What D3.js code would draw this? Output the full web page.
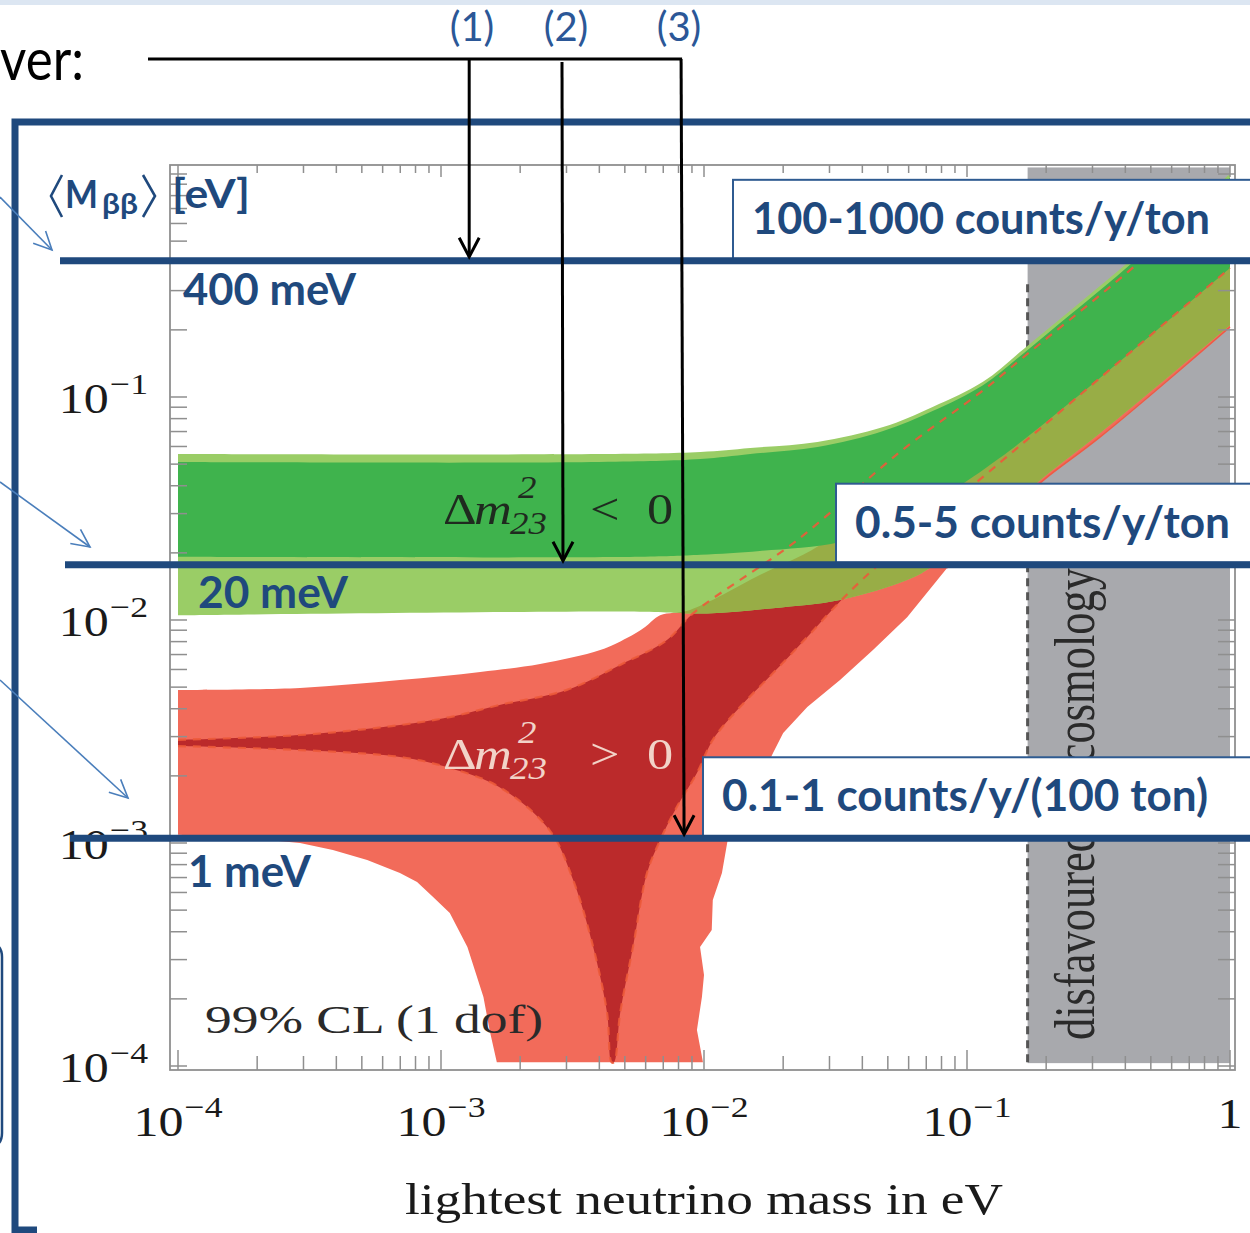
<!DOCTYPE html>
<html>
<head>
<meta charset="utf-8">
<script src="https://cdn.jsdelivr.net/npm/d3@7"></script>
<style>
  body { margin: 0; background: #fff; }
  svg { display: block; }
</style>
</head>
<body>
<div id="canvas"></div>
<script>

// ---- data: [lightest mass (eV), <m_bb> (eV)] ----

// inverted hierarchy (green), outer 3 sigma band
const ihOuterUpper = [[1e-4, 0.0555], [4.0e-3, 0.0555], [9.7e-3, 0.0567], [1.5e-2, 0.0591], [2.7e-2, 0.0629],
  [4.8e-2, 0.0733], [7.4e-2, 0.0902], [0.115, 0.117], [0.163, 0.163], [0.246, 0.243], [0.372, 0.364],
  [0.591, 0.585], [1, 1.0]];
const ihOuterLower = [[1e-4, 0.0105], [5.7e-3, 0.0109], [1.03e-2, 0.0107], [1.83e-2, 0.0113], [3.29e-2, 0.0123],
  [5.92e-2, 0.0151], [7.23e-2, 0.0171], [0.133, 0.0296], [0.196, 0.0438], [0.321, 0.069], [1, 0.21]];

// inverted hierarchy, inner band
const ihInnerUpper = [[1e-4, 0.0511], [4.0e-3, 0.0511], [9.7e-3, 0.0527], [1.5e-2, 0.0555], [2.7e-2, 0.0597],
  [4.8e-2, 0.0704], [7.4e-2, 0.0865], [0.115, 0.113], [0.163, 0.156], [0.246, 0.233], [0.372, 0.349],
  [0.591, 0.561], [1, 0.96]];
const ihInnerLower = [[1e-4, 0.0192], [5.7e-3, 0.0192], [9.7e-3, 0.0196], [1.63e-2, 0.0204], [3.29e-2, 0.0224],
  [5.56e-2, 0.0281], [8.61e-2, 0.0375], [0.133, 0.0532], [0.321, 0.122], [1, 0.379]];

// normal hierarchy (red), outer band
const nhOuterUpper = [[1e-4, 0.00486], [2.91e-4, 0.00496], [6.98e-4, 0.00538], [1.41e-3, 0.00585], [2.38e-3, 0.00635],
  [4.03e-3, 0.00733], [5.09e-3, 0.0083], [5.97e-3, 0.00931], [6.81e-3, 0.0105], [8.85e-3, 0.0111],
  [1.63e-2, 0.0159], [2.94e-2, 0.0228], [5.56e-2, 0.0471], [0.115, 0.11], [0.163, 0.155], [0.372, 0.345], [1, 0.93]];
const nhOuterLower = [[1e-4, 1.09e-3], [1.88e-4, 1.05e-3], [2.91e-4, 1.0e-3], [3.88e-4, 9.3e-4], [5.24e-4, 8.39e-4],
  [6.98e-4, 7.33e-4], [8.11e-4, 6.68e-4], [9.33e-4, 5.73e-4], [1.08e-3, 4.86e-4], [1.26e-3, 3.42e-4],
  [1.45e-3, 2.04e-4], [1.53e-3, 1.45e-4], [1.63e-3, 1.04e-4], [9.91e-3, 1.04e-4], [9.4e-3, 1.45e-4],
  [9.82e-3, 2.04e-4], [1.0e-2, 2.56e-4], [9.66e-3, 3.42e-4], [1.07e-2, 4.07e-4], [1.08e-2, 5.55e-4],
  [1.17e-2, 7.33e-4], [1.23e-2, 1.03e-3], [1.5e-2, 1.56e-3], [1.83e-2, 2.53e-3], [2.0e-2, 3.11e-3],
  [2.47e-2, 4.07e-3], [3.29e-2, 5.38e-3], [4.39e-2, 7.33e-3], [5.92e-2, 0.0103], [8.4e-2, 0.0171],
  [0.133, 0.0284], [0.196, 0.0425], [0.321, 0.0662], [1, 0.206]];

// normal hierarchy, inner band
const nhInnerUpper = [[1e-4, 0.0029], [2.91e-4, 0.00305], [6.98e-4, 0.00338], [1.08e-3, 0.00367], [1.67e-3, 0.00416],
  [3.01e-3, 0.00486], [4.8e-3, 0.00629], [7.23e-3, 0.00813], [9.08e-3, 0.0107], [2.26e-2, 0.0228],
  [5.56e-2, 0.0567], [0.115, 0.107], [0.163, 0.150], [0.372, 0.331], [1, 0.90]];
const nhInnerLower = [[1e-4, 0.00272], [2.91e-4, 0.00261], [6.98e-4, 0.00243], [1.08e-3, 0.00217], [1.67e-3, 0.00178],
  [2.59e-3, 0.00114], [3.18e-3, 6.82e-4], [3.79e-3, 3.42e-4], [4.28e-3, 1.73e-4], [4.45e-3, 1.04e-4],
  [4.55e-3, 1.04e-4], [4.8e-3, 1.73e-4], [5.37e-3, 3.42e-4], [6.07e-3, 7.33e-4], [6.81e-3, 1.03e-3],
  [7.88e-3, 1.45e-3], [9.4e-3, 2.06e-3], [1.08e-2, 2.9e-3], [1.37e-2, 4.07e-3], [1.83e-2, 5.78e-3],
  [2.47e-2, 8.4e-3], [3.29e-2, 0.0121], [4.39e-2, 0.0168], [0.133, 0.0506], [0.321, 0.122], [1, 0.379]];

// cosmology bound (grey region starts here)
const cosmoBound = 0.17;

// tick labels
const xTickVals = [1e-4, 1e-3, 1e-2, 1e-1, 1];
const xTickExp = ["−4", "−3", "−2", "−1", ""];
const yTickVals = [1e-4, 1e-3, 1e-2, 1e-1];
const yTickExp = ["−4", "−3", "−2", "−1"];

// overlay: sensitivity levels drawn across the plot
const levels = [0.408, 0.0177, 0.00105];
const levelLabels = ["400 meV", "20 meV", "1 meV"];
const rateLabels = ["100-1000 counts/y/ton", "0.5-5 counts/y/ton", "0.1-1 counts/y/(100 ton)"];
const arrowMass = [1.28e-3, 2.91e-3, 8.4e-3];
const arrowNames = ["(1)", "(2)", "(3)"];


// ---- layout ----
const width = 1250;
const height = 1233;
const frame = { left: 170, right: 1235, top: 165, bottom: 1070 };

const blue = "#1f497d";
const serif = "'Liberation Serif','Times New Roman',serif";
const sans = "Lato,'Open Sans',sans-serif";

const x = d3.scaleLog().domain([1e-4, 1]).range([178, 1230]);
const y = d3.scaleLog().domain([1e-4, 1]).range([1066, 174]);

// smooth edges, and straight ones for the ragged outline
const line = d3.line()
    .x(d => x(d[0]))
    .y(d => y(d[1]))
    .curve(d3.curveCatmullRom.alpha(0.5));
const lineStraight = d3.line()
    .x(d => x(d[0]))
    .y(d => y(d[1]));

function band(up, lo, loLine) {
    const a = line(up);
    const b = (loLine || line)(lo.slice().reverse());
    return a + "L" + b.slice(1) + "Z";
}

const canvas = d3.select("#canvas")
    .append("svg")
    .attr("width", width)
    .attr("height", height)
    .style("background", "#fff");

// thin strip at the very top
canvas.append("rect")
    .attr("x", 0).attr("y", 0).attr("width", width).attr("height", 5)
    .attr("fill", "#dce6f2");

const plot = canvas.append("g");

// grey "disfavoured by cosmology" region
plot.append("rect")
    .attr("x", x(cosmoBound))
    .attr("y", y(1.07))
    .attr("width", x(1) - x(cosmoBound))
    .attr("height", y(1.03e-4) - y(1.07))
    .attr("fill", "#a8a9ad");

plot.append("line")
    .attr("x1", x(cosmoBound)).attr("x2", x(cosmoBound))
    .attr("y1", y(0.32)).attr("y2", y(1.03e-4))
    .attr("stroke", "#555").attr("stroke-width", 3)
    .attr("stroke-dasharray", "8,6");

const nhOuterPath = band(nhOuterUpper, nhOuterLower, lineStraight);

// clip for the olive overlap
canvas.append("defs").append("clipPath")
    .attr("id", "nhClip")
    .append("path")
    .attr("d", nhOuterPath);

// normal hierarchy bands
plot.append("path").attr("d", nhOuterPath).attr("fill", "#f26b5a");
plot.append("path").attr("d", band(nhInnerUpper, nhInnerLower)).attr("fill", "#bb2a2b");

// inverted hierarchy bands
plot.append("path").attr("d", band(ihOuterUpper, ihOuterLower)).attr("fill", "#9acd66");
plot.append("path").attr("d", band(ihOuterUpper, ihOuterLower))
    .attr("clip-path", "url(#nhClip)")
    .attr("fill", "#98ad46");
plot.append("path").attr("d", band(ihInnerUpper, ihInnerLower)).attr("fill", "#3fb34d");

// edges of the red inner band, dashed
[nhInnerUpper, nhInnerLower].forEach(edge => {
    plot.append("path")
        .attr("d", line(edge))
        .attr("fill", "none")
        .attr("stroke", "#ec5a3a")
        .attr("stroke-width", 2.2)
        .attr("stroke-dasharray", "8,7")
        .attr("opacity", 0.9);
});

// lower edge of the red outer band over the grey region
plot.append("path")
    .attr("d", line(nhOuterLower.filter(d => d[0] >= 0.08)))
    .attr("fill", "none")
    .attr("stroke", "#ef5a44")
    .attr("stroke-width", 1.5);

// frame + ticks
plot.append("rect")
    .attr("x", frame.left).attr("y", frame.top)
    .attr("width", frame.right - frame.left).attr("height", frame.bottom - frame.top)
    .attr("fill", "none").attr("stroke", "#8f8f8f").attr("stroke-width", 1.8);

const isMajor = v => Math.abs(Math.log10(v) - Math.round(Math.log10(v))) < 1e-6;
const tickG = plot.append("g").attr("stroke", "#8f8f8f").attr("stroke-width", 1.5);

x.ticks().forEach(v => {
    const px = x(v);
    const L = isMajor(v) ? 20 : 14;
    tickG.append("line").attr("x1", px).attr("x2", px).attr("y1", frame.bottom).attr("y2", frame.bottom - L);
    tickG.append("line").attr("x1", px).attr("x2", px).attr("y1", frame.top).attr("y2", frame.top + (isMajor(v) ? 12 : 8));
});
y.ticks().forEach(v => {
    const py = y(v);
    tickG.append("line").attr("x1", frame.left).attr("x2", frame.left + 17).attr("y1", py).attr("y2", py);
    tickG.append("line").attr("x1", frame.right).attr("x2", frame.right - 17).attr("y1", py).attr("y2", py);
});

// tick labels
function powLabel(px, py, exp, anchor) {
    const t = plot.append("text")
        .attr("transform", `translate(${px},${py}) scale(1.19,1)`)
        .attr("text-anchor", anchor)
        .style("font-family", serif)
        .style("font-size", "42px")
        .attr("fill", "#1a1a1a");
    if (exp === "") {
        t.text("1");
        return;
    }
    t.append("tspan").text("10");
    t.append("tspan").attr("dy", -19).attr("dx", 1).style("font-size", "30px").text(exp);
}

xTickVals.forEach((v, i) => {
    if (xTickExp[i] === "") powLabel(x(v), 1128, "", "middle");
    else powLabel(x(v), 1136, xTickExp[i], "middle");
});
yTickVals.forEach((v, i) => powLabel(148, y(v) + 16, yTickExp[i], "end"));

// axis title
plot.append("text")
    .attr("x", 405).attr("y", 1214)
    .attr("textLength", 598).attr("lengthAdjust", "spacingAndGlyphs")
    .style("font-family", serif).style("font-size", "44px")
    .attr("fill", "#1a1a1a")
    .text("lightest neutrino mass in eV");

plot.append("text")
    .attr("x", 205).attr("y", 1033)
    .attr("textLength", 338).attr("lengthAdjust", "spacingAndGlyphs")
    .style("font-family", serif).style("font-size", "39px")
    .attr("fill", "#2a2a2a")
    .text("99% CL (1 dof)");

plot.append("text")
    .attr("transform", "translate(1094,1040) scale(1.25,1) rotate(-90)")
    .attr("textLength", 472).attr("lengthAdjust", "spacingAndGlyphs")
    .style("font-family", serif).style("font-size", "46px")
    .attr("fill", "#2a2a2a")
    .text("disfavoured by cosmology");

// Delta m^2_23 labels
function deltaLabel(base, rel, color) {
    const piece = (px, py, str, size, italic) => plot.append("text")
        .attr("transform", `translate(${px},${py}) scale(1.19,1)`)
        .style("font-family", serif)
        .style("font-size", size + "px")
        .style("font-style", italic ? "italic" : "normal")
        .attr("fill", color)
        .text(str);
    piece(443, base, "Δ", 44, false);
    piece(474, base, "m", 44, true);
    piece(518, base - 26, "2", 31, true);
    piece(510, base + 10, "23", 31, true);
    piece(590, base, rel, 44, false);
    piece(647, base, "0", 44, false);
}
deltaLabel(524, "<", "#1f2a1f");
deltaLabel(769, ">", "#f2d3c8");


// ---- presentation overlay ----
const over = canvas.append("g");

over.append("text")
    .attr("x", 84).attr("y", 80)
    .attr("text-anchor", "end")
    .style("font-family", sans).style("font-size", "58px")
    .attr("fill", "#000")
    .attr("transform", "translate(84,0) scale(0.88,1) translate(-84,0)")
    .text("ver:");

// big blue bracket frame
over.append("path")
    .attr("d", "M37,1230 H15 V122 H1260")
    .attr("fill", "none").attr("stroke", blue).attr("stroke-width", 7);

// edge of a rounded box on the far left
over.append("path")
    .attr("d", "M-20,943 H-12 Q2,943 2,957 V1133 Q2,1147 -12,1147 H-20")
    .attr("fill", "none").attr("stroke", blue).attr("stroke-width", 2.5);

// level lines, boxes and labels
const lineStart = [60, 65, 70];
const boxLeft = [733, 836, 703];
const boxTextX = [752, 855, 722];
const boxTextW = [458, 375, 486];
const labelX = [183, 198, 188];
const labelW = [173, 150, 123];
const labelDy = [44, 43, 49];

levels.forEach((v, i) => {
    const py = y(v);
    over.append("rect")
        .attr("x", boxLeft[i]).attr("y", py - 81)
        .attr("width", width + 20 - boxLeft[i]).attr("height", 79)
        .attr("fill", "#fff").attr("stroke", "#2f5b91").attr("stroke-width", 2);
    over.append("text")
        .attr("x", boxTextX[i]).attr("y", py - 27)
        .attr("textLength", boxTextW[i]).attr("lengthAdjust", "spacingAndGlyphs")
        .style("font-family", sans).style("font-weight", 700).style("font-size", "44px")
        .attr("fill", blue)
        .text(rateLabels[i]);
    over.append("line")
        .attr("x1", lineStart[i]).attr("x2", width + 10)
        .attr("y1", py).attr("y2", py)
        .attr("stroke", blue).attr("stroke-width", 7);
    over.append("text")
        .attr("x", labelX[i]).attr("y", py + labelDy[i])
        .attr("textLength", labelW[i]).attr("lengthAdjust", "spacingAndGlyphs")
        .style("font-family", sans).style("font-weight", 700).style("font-size", "43px")
        .attr("fill", blue)
        .text(levelLabels[i]);
});

// axis quantity label  <M_bb> [eV]
const mbb = over.append("g").attr("fill", blue).style("font-family", sans);
mbb.append("path").attr("d", "M62,175 L51,196 L62,217")
    .attr("fill", "none").attr("stroke", blue).attr("stroke-width", 2.6);
mbb.append("text").attr("x", 65).attr("y", 208)
    .attr("textLength", 33).attr("lengthAdjust", "spacingAndGlyphs")
    .style("font-size", "38px").style("font-weight", 700).text("M");
mbb.append("text").attr("x", 102).attr("y", 214)
    .attr("textLength", 36).attr("lengthAdjust", "spacingAndGlyphs")
    .style("font-size", "29px").style("font-weight", 700).text("ββ");
mbb.append("path").attr("d", "M143,175 L155,196 L143,217")
    .attr("fill", "none").attr("stroke", blue).attr("stroke-width", 2.6);
mbb.append("text").attr("x", 172).attr("y", 208)
    .attr("textLength", 78).attr("lengthAdjust", "spacingAndGlyphs")
    .style("font-size", "40px").style("font-weight", 700).text("[eV]");

// thin pointer arrows from the left
function openHead(g, x1, y1, x2, y2, len, ang, color, w) {
    const a = Math.atan2(y2 - y1, x2 - x1);
    const pts = [
        [x2 - len * Math.cos(a - ang), y2 - len * Math.sin(a - ang)],
        [x2, y2],
        [x2 - len * Math.cos(a + ang), y2 - len * Math.sin(a + ang)]
    ];
    g.append("path").attr("d", d3.line()(pts))
        .attr("fill", "none").attr("stroke", color).attr("stroke-width", w);
}

const pointers = [[0, 197, 52, 250], [0, 482, 90, 547], [0, 680, 128, 798]];
pointers.forEach(p => {
    over.append("line")
        .attr("x1", p[0]).attr("y1", p[1]).attr("x2", p[2]).attr("y2", p[3])
        .attr("stroke", "#4a7ebb").attr("stroke-width", 1.6);
    openHead(over, p[0], p[1], p[2], p[3], 20, 0.45, "#4a7ebb", 1.6);
});

// black arrows (1) (2) (3)
const topY = 59;
over.append("line")
    .attr("x1", 148).attr("x2", x(arrowMass[2]) - 2)
    .attr("y1", topY).attr("y2", topY)
    .attr("stroke", "#000").attr("stroke-width", 3);

const labelCx = [472, 566, 679];
arrowMass.forEach((m, i) => {
    const bx = x(m);
    const tx = i === 2 ? bx - 3 : (i === 1 ? bx - 1 : bx);
    const ty = i === 1 ? topY + 3 : topY;
    const tipY = y(levels[i]) - 4;
    over.append("line")
        .attr("x1", tx).attr("y1", ty).attr("x2", bx).attr("y2", tipY)
        .attr("stroke", "#000").attr("stroke-width", 3);
    over.append("path")
        .attr("d", d3.line()([[bx - 10, tipY - 19], [bx, tipY], [bx + 10, tipY - 19]]))
        .attr("fill", "none").attr("stroke", "#000").attr("stroke-width", 3);
    over.append("text")
        .attr("x", labelCx[i]).attr("y", 41)
        .attr("text-anchor", "middle")
        .style("font-family", sans).style("font-size", "40px")
        .attr("fill", "#2b5797")
        .text(arrowNames[i]);
});

</script>
</body>
</html>
